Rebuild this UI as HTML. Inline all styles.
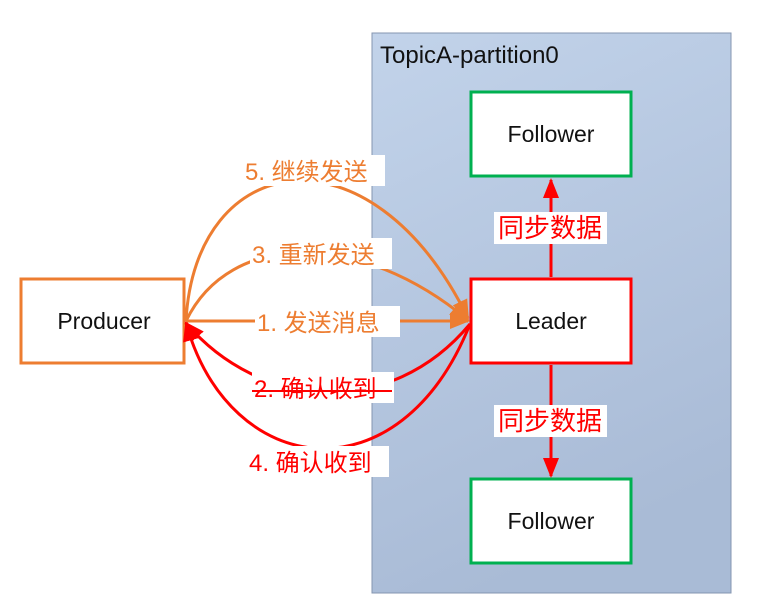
<!DOCTYPE html>
<html><head><meta charset="utf-8"><style>
body{margin:0;background:#fff;}
svg text{font-family:"Liberation Sans","Noto Sans CJK SC",sans-serif;}
</style></head><body>
<svg width="772" height="606" viewBox="0 0 772 606" xmlns="http://www.w3.org/2000/svg">
<defs>
<linearGradient id="g" x1="0" y1="0" x2="0.3" y2="1"><stop offset="0" stop-color="#c2d3ea"/><stop offset="1" stop-color="#a9bbd6"/></linearGradient>
<marker id="ao" markerWidth="22" markerHeight="18" refX="18" refY="8" orient="auto" markerUnits="userSpaceOnUse"><path d="M0,0 L20,8 L0,16 z" fill="#ed7d31"/></marker>
<marker id="ar" markerWidth="22" markerHeight="18" refX="18" refY="8" orient="auto" markerUnits="userSpaceOnUse"><path d="M0,0 L20,8 L0,16 z" fill="#ff0000"/></marker>
</defs>
<rect x="372" y="33" width="359" height="560" fill="url(#g)" stroke="#8496b0" stroke-width="1"/>
<text x="380" y="63" font-size="24" fill="#111">TopicA-partition0</text>
<rect x="471" y="92" width="160" height="84" fill="#fff" stroke="#00b050" stroke-width="3"/>
<text x="551" y="142" font-size="23" text-anchor="middle" fill="#111">Follower</text>
<rect x="471" y="279" width="160" height="84" fill="#fff" stroke="#ff0000" stroke-width="3"/>
<text x="551" y="329" font-size="23" text-anchor="middle" fill="#111">Leader</text>
<rect x="471" y="479" width="160" height="84" fill="#fff" stroke="#00b050" stroke-width="3"/>
<text x="551" y="529" font-size="23" text-anchor="middle" fill="#111">Follower</text>
<rect x="21" y="279" width="163" height="84" fill="#fff" stroke="#ed7d31" stroke-width="3"/>
<text x="104" y="329" font-size="23" text-anchor="middle" fill="#111">Producer</text>
<line x1="551" y1="277" x2="551" y2="180" stroke="#ff0000" stroke-width="3" marker-end="url(#ar)"/>
<line x1="551" y1="365" x2="551" y2="476" stroke="#ff0000" stroke-width="3" marker-end="url(#ar)"/>
<g fill="none" stroke-width="3">
<path d="M186,321 C195,150 370,120 468,318" stroke="#ed7d31" marker-end="url(#ao)"/>
<path d="M186,321 C230,230 360,230 468,320" stroke="#ed7d31" marker-end="url(#ao)"/>
<path d="M186,321 L468,321" stroke="#ed7d31" marker-end="url(#ao)"/>
<path d="M470,324 C390,420 260,410 186,323" stroke="#ff0000" marker-end="url(#ar)"/>
<path d="M470,324 C400,500 230,480 186,323" stroke="#ff0000" marker-end="url(#ar)"/>
</g>
<g font-size="24">
<rect x="243" y="155" width="142" height="31" fill="#fff"/><text x="245" y="180" fill="#ed7d31">5. 继续发送</text>
<rect x="250" y="238" width="142" height="31" fill="#fff"/><text x="252" y="263" fill="#ed7d31">3. 重新发送</text>
<rect x="255" y="306" width="145" height="31" fill="#fff"/><text x="257" y="331" fill="#ed7d31">1. 发送消息</text>
<rect x="252" y="372" width="142" height="31" fill="#fff"/><text x="254" y="397" fill="#ff0000">2. 确认收到</text>
<line x1="252" y1="391" x2="392" y2="391" stroke="#ff0000" stroke-width="2"/>
<rect x="247" y="446" width="142" height="31" fill="#fff"/><text x="249" y="471" fill="#ff0000">4. 确认收到</text>
<rect x="494" y="212" width="113" height="32" fill="#fff"/><text x="550" y="237" text-anchor="middle" fill="#ff0000" font-size="26">同步数据</text>
<rect x="494" y="405" width="113" height="32" fill="#fff"/><text x="550" y="430" text-anchor="middle" fill="#ff0000" font-size="26">同步数据</text>
</g>
</svg>
</body></html>
